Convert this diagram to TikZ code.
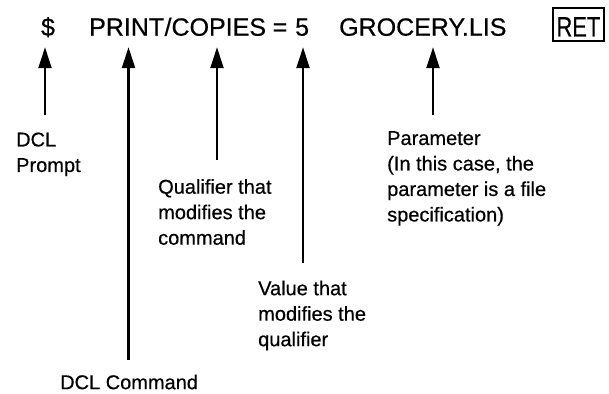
\documentclass[tikz,border=0pt]{standalone}
\usepackage{fontspec}
\setmainfont[FakeBold=0.5]{Liberation Sans}
\usetikzlibrary{arrows.meta}
\begin{document}
\begin{tikzpicture}[x=1pt,y=-1pt,
  cmdtext/.style={font=\fontsize{25}{30}\selectfont, inner xsep=0pt, inner ysep=11.3pt,
                  text depth=0pt, anchor=base west},
  note/.style={font=\fontsize{20}{25.5}\selectfont, align=left, inner sep=0pt, anchor=north west},
  pointer/.style={line width=2.4pt, -{Triangle[width=13pt,length=21pt]}},
  keycap/.style={draw, line width=2pt, font=\fontsize{28}{32}\selectfont, inner sep=0pt,
                 minimum width=50.4pt, text height=28.3pt, text depth=4.3pt, anchor=base}]
  \useasboundingbox (0,0) rectangle (609,393);

  % the command line
  \node[cmdtext, anchor=base] (dollar) at (48,35.7) {\$};
  \node[cmdtext] (cmd)   at (89,35.7) {PRINT};
  \node[cmdtext] (qual)  at (cmd.base east) {/COPIES};
  \node[cmdtext] (eq)    at (272.5,35.7) {=};
  \node[cmdtext] (val)   at (295,35.7) {5};
  \node[cmdtext] (param) at (339,35.7) {GROCERY.LIS};
  \node[keycap]  (ret)   at (578.4,36.5) {\scalebox{0.78}[1]{RET}};

  % explanatory notes
  \node[note] (prompt)   at (16,132.3)  {DCL\\Prompt};
  \node[note] (command)  at (60,374.5)  {DCL Command};
  \node[note] (qualnote) at (158,179)   {Qualifier that\\modifies the\\command};
  \node[note] (valnote)  at (258,280.5) {Value that\\modifies the\\qualifier};
  \node[note] (parnote)  at (387,131)   {Parameter\\(In this case, the\\parameter is a file\\specification)};

  % pointer tails
  \coordinate (t1) at (45,115);
  \coordinate (t2) at (128.5,360);
  \coordinate (t3) at (217,160);
  \coordinate (t4) at (303,263);
  \coordinate (t5) at (433,115);

  \draw[pointer] (t1) -- (t1 |- dollar.south);
  \draw[pointer] (t2) -- (t2 |- cmd.south);
  \draw[pointer] (t3) -- (t3 |- qual.south);
  \draw[pointer] (t4) -- (t4 |- val.south);
  \draw[pointer] (t5) -- (t5 |- param.south);
\end{tikzpicture}
\end{document}
